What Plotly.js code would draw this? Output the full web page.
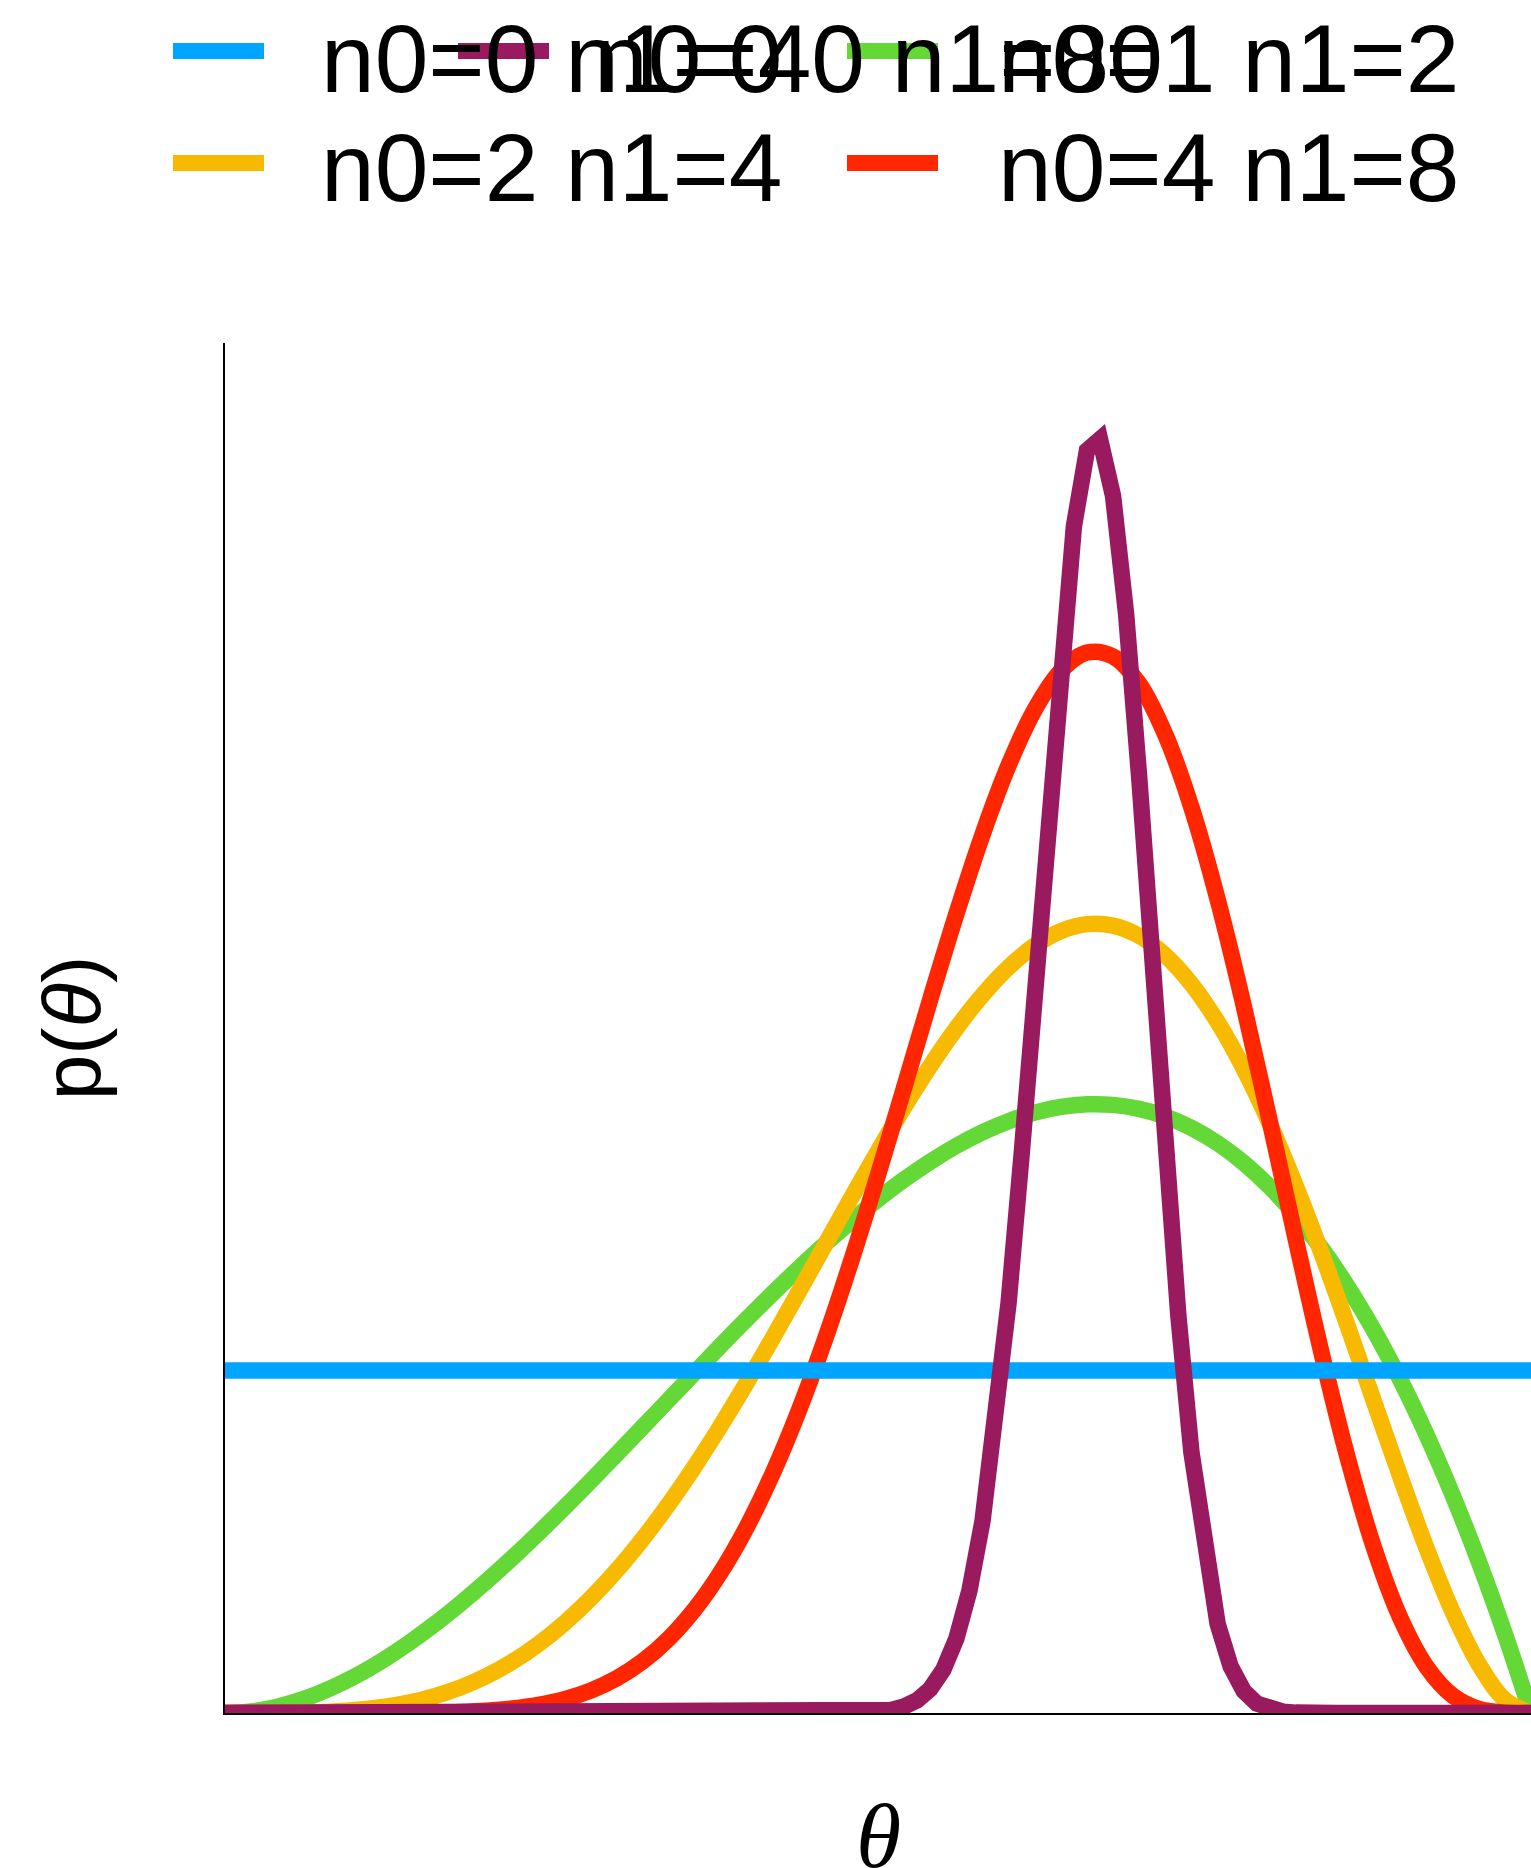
<!DOCTYPE html>
<html>
<head>
<meta charset="utf-8">
<script src="https://cdn.plot.ly/plotly-3.0.1.min.js"></script>
<style>html,body{margin:0;padding:0;background:#fff;}#chart{width:1531px;height:1868px;}</style>
</head>
<body>
<div id="chart"></div>
<script>
// ---- data ----
var seriesNames = ["n0=0 n1=0", "n0=40 n1=80", "n0=1 n1=2", "n0=2 n1=4", "n0=4 n1=8"];
var seriesColors = ["#00A5FF", "#9A1A5F", "#63D837", "#F8BA00", "#FF2600"];
var xTitle = "<i>θ</i>";
var yTitle = "p(<i>θ</i>)";

var thetaUniform = [0, 1];
var pUniform = [1, 1];

var thetaSmooth = [0,0.02,0.04,0.06,0.08,0.10,0.12,0.14,0.16,0.18,0.20,0.22,0.24,0.26,0.28,0.30,0.32,0.34,0.36,0.38,0.40,0.42,0.44,0.46,0.48,0.50,0.52,0.54,0.56,0.58,0.60,0.62,0.64,0.66,0.68,0.70,0.72,0.74,0.76,0.78,0.80,0.82,0.84,0.86,0.88,0.90,0.92,0.94,0.96,0.98,1.00];

var pN1 = [0,0.0047,0.0184,0.0406,0.0707,0.108,0.1521,0.2023,0.258,0.3188,0.384,0.453,0.5253,0.6003,0.6774,0.756,0.8356,0.9156,0.9953,1.0743,1.152,1.2277,1.301,1.3712,1.4377,1.5,1.5575,1.6096,1.6558,1.6955,1.728,1.7529,1.7695,1.7772,1.7756,1.764,1.7418,1.7085,1.6635,1.6062,1.536,1.4524,1.3548,1.2425,1.1151,0.972,0.8125,0.6362,0.4424,0.2305,0];

var pN2 = [0,0.00002,0.00025,0.0012,0.0036,0.0085,0.0169,0.0298,0.0486,0.0741,0.1075,0.1496,0.2012,0.2628,0.3346,0.4167,0.5091,0.6112,0.7224,0.8416,0.9677,1.0991,1.2342,1.3709,1.5072,1.6406,1.7688,1.8892,1.9992,2.096,2.1773,2.2404,2.283,2.3032,2.2989,2.2689,2.2123,2.1284,2.0177,1.8811,1.7203,1.5381,1.3383,1.1258,0.9067,0.6889,0.4814,0.2951,0.1427,0.0387,0];

var pN4 = [0,0,0,0.000001,0.0000077,0.000042,0.000166,0.000519,0.00138,0.00321,0.00675,0.01307,0.02363,0.0403,0.06534,0.10137,0.15128,0.21805,0.30457,0.41342,0.54656,0.7051,0.88904,1.09696,1.32585,1.57105,1.82618,2.0832,2.33273,2.56431,2.76693,2.92965,3.04228,3.09611,3.08474,3.00482,2.85654,2.6442,2.3763,2.06537,1.72738,1.38085,1.04535,0.73969,0.47988,0.27701,0.13527,0.05084,0.01189,0.00088,0];

var thetaSharp = [0,0.45,0.46,0.47,0.48,0.49,0.50,0.51,0.52,0.53,0.54,0.55,0.56,0.57,0.58,0.59,0.60,0.61,0.62,0.63,0.64,0.65,0.66,0.67,0.68,0.69,0.70,0.71,0.72,0.73,0.74,0.75,0.76,0.77,0.78,0.79,0.80,0.81,0.82,0.83,0.84,0.85,1];
var pN40 = [0,0.00004,0.0001,0.0003,0.0008,0.0018,0.0042,0.0091,0.0188,0.0371,0.0701,0.1263,0.2173,0.3569,0.560,0.838,1.198,1.632,2.121,2.625,3.093,3.465,3.686,3.719,3.553,3.208,2.732,2.190,1.647,1.159,0.761,0.464,0.261,0.136,0.0643,0.0277,0.0108,0.0037,0.0011,0.0003,0.0001,0,0];

// legend placement (grid slots as in the reference): [column, row]
var legendSlots = [[0,0],[1,0],[2,0],[0,1],[2,1]];

// ---- figure ----
var W = 1531, H = 1868;
var M = {l: 225, r: 0, t: 343, b: 155};
var plotW = W - M.l - M.r, plotH = H - M.t - M.b;
function px2x(px){ return (px - M.l) / plotW; }
function py2y(py){ return (H - M.b - py) / plotH; }

var LW = 16.5;
function mk(x, y, idx, shape){
  return {x: x, y: y, type: 'scatter', mode: 'lines', name: seriesNames[idx],
    line: {color: seriesColors[idx], width: LW, shape: shape || 'linear', smoothing: 1},
    cliponaxis: false, showlegend: false, hoverinfo: 'skip'};
}

var traces = [
  mk(thetaSmooth, pN1, 2, 'spline'),
  mk(thetaSmooth, pN2, 3, 'spline'),
  mk(thetaSmooth, pN4, 4, 'spline'),
  mk(thetaUniform, pUniform, 0),
  mk(thetaSharp, pN40, 1)
];

// custom legend: colour bar + label, at the reference's slot positions
var colLineX = [173, 458, 847];
var colTextX = [319, 592, 996];
var rowLineY = [51, 163];
var rowTextY = [58, 167];
var shapes = [], annotations = [];
for (var i = 0; i < seriesNames.length; i++) {
  var c = legendSlots[i][0], r = legendSlots[i][1];
  shapes.push({type: 'line', xref: 'paper', yref: 'paper',
    x0: px2x(colLineX[c]), x1: px2x(colLineX[c] + 91),
    y0: py2y(rowLineY[r]), y1: py2y(rowLineY[r]),
    line: {color: seriesColors[i], width: 16}, layer: 'above'});
  annotations.push({xref: 'paper', yref: 'paper', x: px2x(colTextX[c]), y: py2y(rowTextY[r]),
    xanchor: 'left', yanchor: 'middle', showarrow: false, text: seriesNames[i],
    font: {family: 'Liberation Sans, Arial, sans-serif', size: 96.5, color: '#000'}});
}
// x-axis title (sits partly below the page edge, as in the reference)
annotations.push({xref: 'paper', yref: 'paper', x: 0.5, y: py2y(1836),
  xanchor: 'center', yanchor: 'middle', showarrow: false, text: xTitle,
  font: {family: 'Liberation Serif, Times New Roman, serif', size: 92, color: '#000'}});

var layout = {
  width: W, height: H,
  margin: M,
  paper_bgcolor: '#fff', plot_bgcolor: '#fff',
  showlegend: false,
  font: {family: 'Liberation Sans, Arial, sans-serif', color: '#000'},
  xaxis: {range: [0, 1], showline: true, linecolor: '#000', linewidth: 2, mirror: false,
    showgrid: false, zeroline: false, showticklabels: false, ticks: '', automargin: false},
  yaxis: {range: [0, 4], showline: true, linecolor: '#000', linewidth: 2, mirror: false,
    showgrid: false, zeroline: false, showticklabels: false, ticks: '', automargin: false,
    title: {text: yTitle, standoff: 95, font: {family: 'Liberation Sans, Arial, sans-serif', size: 82, color: '#000'}}},
  shapes: shapes,
  annotations: annotations
};

Plotly.newPlot('chart', traces, layout, {staticPlot: true, displayModeBar: false});
</script>
</body>
</html>
